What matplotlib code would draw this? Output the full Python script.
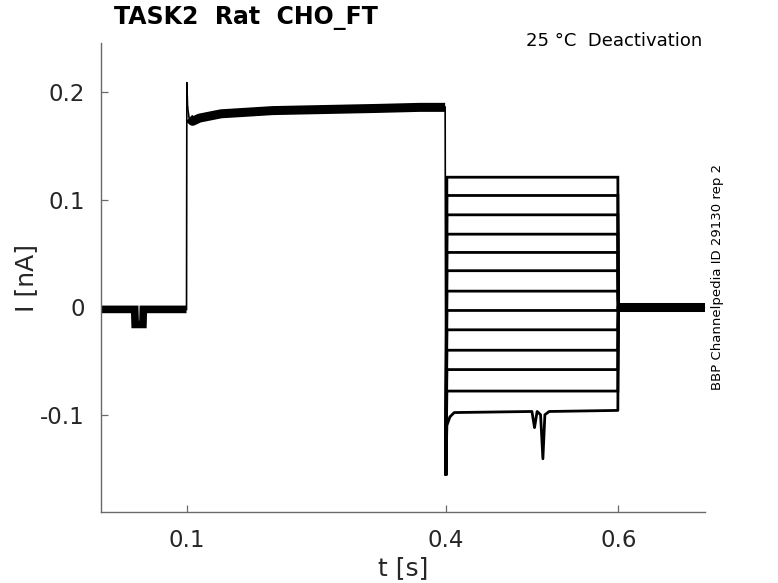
import matplotlib
matplotlib.use("Agg")
import matplotlib.pyplot as plt

# ---- data ----
title = "TASK2  Rat  CHO_FT"
condition = "25 °C  Deactivation"
source = "BBP Channelpedia ID 29130 rep 2"

x_ticks = [0.1, 0.4, 0.6]
x_ticklabels = ["0.1", "0.4", "0.6"]
y_ticks = [-0.1, 0.0, 0.1, 0.2]
y_ticklabels = ["-0.1", "0", "0.1", "0.2"]

# holding segment before activation (with small dip)
t_hold = [0.0013, 0.0400, 0.0405, 0.0495, 0.0500, 0.1000]
i_hold = [-0.002, -0.002, -0.016, -0.016, -0.002, -0.002]

# activation step
t_act = [0.1000, 0.1004, 0.1012, 0.1030, 0.1070, 0.1150, 0.1400, 0.2000, 0.2600, 0.3200, 0.3700, 0.3995]
i_act = [-0.002, 0.209, 0.186, 0.176, 0.173, 0.176, 0.180, 0.183, 0.184, 0.185, 0.186, 0.186]

# capacitive transient at the deactivation step
t_step = [0.3995, 0.4003]
i_step = [0.186, -0.155]

# deactivation levels (one trace per test potential)
deact_levels = [0.121, 0.104, 0.086, 0.068, 0.051, 0.034, 0.015,
                -0.003, -0.021, -0.040, -0.058, -0.078]
t_deact = [0.4003, 0.4015, 0.5995, 0.6000]

# lowest trace, drawn with its transient and late dips
t_low = [0.4003, 0.4015, 0.4050, 0.4100, 0.5000, 0.5030, 0.5060, 0.5100, 0.5127, 0.5150, 0.5200, 0.5995, 0.6000]
i_low = [-0.155, -0.110, -0.102, -0.098, -0.097, -0.112, -0.097, -0.100, -0.141, -0.100, -0.097, -0.096, 0.000]

# tail after return to holding
t_post = [0.6000, 0.7000]
i_post = [0.000, 0.000]

# ---- figure ----
fig = plt.figure(figsize=(7.78, 5.83), dpi=100)
ax = fig.add_axes([0.1302, 0.1213, 0.7755, 0.8044])

k = "black"
ax.plot(t_hold, i_hold, color=k, lw=5.5, solid_capstyle="butt", solid_joinstyle="miter")
ax.plot(t_act[:3], i_act[:3], color=k, lw=1.2)
ax.plot(t_act[2:], i_act[2:], color=k, lw=1.2)
ax.plot(t_act[3:], i_act[3:], color=k, lw=6.5, solid_capstyle="butt")
ax.plot(t_step, i_step, color=k, lw=1.2)
for lvl in deact_levels:
    ax.plot(t_deact, [-0.155 if j == 0 else lvl for j in range(3)] + [0.0],
            color=k, lw=2.0, solid_joinstyle="miter")
ax.plot(t_low, i_low, color=k, lw=2.0)
ax.plot(t_post, i_post, color=k, lw=6.5, solid_capstyle="butt")

ax.set_xlim(0.0013, 0.7)
ax.set_ylim(-0.1908, 0.2456)

ax.set_xticks(x_ticks)
ax.set_xticklabels(x_ticklabels)
ax.set_yticks(y_ticks)
ax.set_yticklabels(y_ticklabels)

axis_col = "#6a6a6a"
for s in ["top", "right"]:
    ax.spines[s].set_visible(False)
for s in ["left", "bottom"]:
    ax.spines[s].set_color(axis_col)
    ax.spines[s].set_linewidth(1.0)
ax.tick_params(direction="in", length=5, width=0.9, color=axis_col,
               labelsize=16.5, labelcolor="#262626", pad=12)

ax.set_xlabel("t [s]", fontsize=18, color="#262626", labelpad=3)
ax.set_ylabel("I [nA]", fontsize=18, color="#262626", labelpad=1)

fig.text(114 / 778, 1 - 18 / 583, title, fontsize=17, fontweight="bold",
         ha="left", va="center")
fig.text(702 / 778, 1 - 41 / 583, condition, fontsize=13, ha="right", va="center")
fig.text(717 / 778, 1 - 277 / 583, source, fontsize=9.5, rotation=90,
         ha="center", va="center")

fig.savefig("out.png", dpi=100)
